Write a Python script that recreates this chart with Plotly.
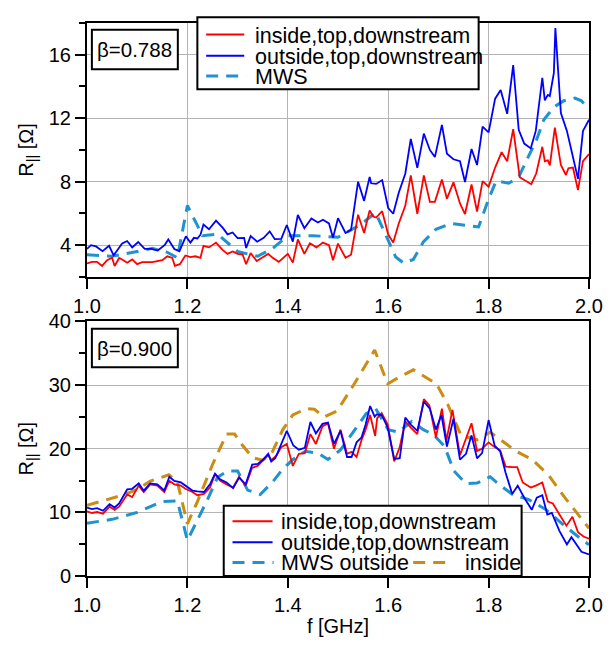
import plotly.graph_objects as go

# ---------------- data: top panel (beta = 0.788) ----------------
top_in_f = [1.00,1.01,1.02,1.03,1.04,1.05,1.055,1.064,1.07,1.08,1.09,1.10,1.11,1.13,1.15,1.16,1.17,1.175,1.185,1.196,
            1.206,1.216,1.226,1.232,1.243,1.257,1.27,1.28,1.29,1.30,1.31,1.317,1.326,1.338,1.351,1.361,1.37,1.382,1.40,1.41,
            1.42,1.433,1.444,1.457,1.47,1.482,1.49,1.50,1.515,1.526,1.54,1.552,1.563,1.57,1.576,1.588,1.60,1.61,1.621,1.634,
            1.645,1.658,1.671,1.683,1.693,1.707,1.717,1.73,1.743,1.753,1.766,1.777,1.788,1.80,1.813,1.826,1.837,1.849,1.862,1.872,
            1.885,1.895,1.907,1.912,1.918,1.922,1.932,1.944,1.954,1.959,1.968,1.978,1.988,2.0]
top_in_r = [2.85,2.95,2.95,2.69,3.05,3.21,2.69,3.19,3.1,2.89,3.1,2.8,2.93,2.93,3.05,3.3,3.2,2.69,2.8,3.35,
            3.25,3.3,3.2,3.96,3.86,4.16,3.7,3.45,3.6,3.45,3.41,2.8,3.5,3.0,3.25,3.45,3.2,2.95,3.45,2.9,
            4.36,3.45,4.12,3.86,4.16,4.0,3.05,4.1,3.2,3.4,5.92,4.77,6.18,5.8,5.74,6.14,4.67,4.16,5.37,6.48,
            8.4,5.98,8.4,6.73,6.73,8.14,6.93,7.96,6.63,5.96,7.82,6.12,8.04,7.68,8.89,9.86,9.29,11.31,8.28,8.08,
            7.84,8.53,10.2,9.29,9.35,9.03,11.41,9.05,8.42,8.85,8.89,7.47,9.29,9.74]

top_out_f = [1.00,1.008,1.018,1.031,1.044,1.053,1.06,1.07,1.08,1.09,1.102,1.115,1.128,1.141,1.155,1.162,1.174,1.184,1.197,1.206,
             1.213,1.22,1.226,1.232,1.243,1.257,1.271,1.28,1.29,1.30,1.313,1.317,1.326,1.339,1.352,1.364,1.374,1.387,1.398,1.41,
             1.42,1.433,1.447,1.46,1.47,1.482,1.49,1.50,1.515,1.526,1.54,1.552,1.563,1.566,1.576,1.588,1.60,1.61,1.621,1.634,
             1.645,1.658,1.671,1.683,1.693,1.707,1.717,1.73,1.743,1.753,1.766,1.777,1.788,1.80,1.813,1.824,1.837,1.849,1.86,1.871,
             1.884,1.894,1.907,1.912,1.918,1.922,1.93,1.933,1.944,1.956,1.967,1.978,1.988,2.0]
top_out_r = [3.76,4.0,3.92,3.62,3.96,3.36,3.66,4.1,4.26,3.86,4.2,3.76,3.76,3.66,4.02,4.36,3.76,3.62,4.56,4.16,
             4.46,4.42,4.66,5.3,5.0,5.55,5.07,4.68,4.8,4.44,4.46,3.82,4.57,4.22,4.46,4.87,4.38,4.4,5.27,4.22,
             5.9,5.07,5.68,5.43,5.6,5.37,4.46,5.7,4.77,4.97,8.0,6.79,8.3,7.9,7.86,8.1,6.34,5.98,7.3,8.5,
             10.69,8.87,11.03,10.0,9.55,11.58,9.76,9.41,9.29,7.98,10.06,9.05,11.47,11.11,13.23,13.78,12.28,15.35,11.27,10.4,
             10.1,11.2,14.55,13.13,13.47,13.4,14.85,17.68,12.32,11.2,9.7,8.18,11.2,11.9]

top_mws_f = [1.00,1.05,1.10,1.13,1.16,1.18,1.20,1.23,1.26,1.30,1.34,1.37,1.40,1.45,1.50,1.545,1.575,1.60,1.615,1.631,
             1.65,1.67,1.695,1.725,1.78,1.80,1.815,1.84,1.86,1.875,1.895,1.91,1.93,1.95,1.972,1.985,2.0]
top_mws_r = [3.4,3.3,3.6,3.8,3.55,3.2,6.5,4.6,4.7,3.6,3.3,3.8,4.6,4.6,4.5,5.3,6.05,4.3,3.25,2.87,
             3.1,4.2,5.0,5.37,5.15,6.9,8.05,7.9,8.3,9.3,10.6,11.9,12.7,13.1,13.27,13.1,12.55]

# ---------------- data: bottom panel (beta = 0.900) ----------------
bot_in_f = [1.00,1.01,1.02,1.032,1.045,1.055,1.064,1.08,1.09,1.103,1.113,1.126,1.14,1.154,1.164,1.174,1.187,1.196,1.21,1.22,
            1.233,1.245,1.255,1.265,1.278,1.291,1.303,1.316,1.329,1.34,1.351,1.361,1.367,1.378,1.387,1.398,1.41,1.422,1.434,1.445,
            1.456,1.469,1.48,1.492,1.505,1.518,1.527,1.537,1.547,1.555,1.564,1.574,1.578,1.587,1.599,1.612,1.623,1.634,1.645,1.658,
            1.671,1.682,1.695,1.707,1.716,1.728,1.743,1.755,1.766,1.777,1.787,1.80,1.812,1.823,1.834,1.847,1.857,1.868,1.884,1.894,
            1.907,1.918,1.928,1.942,1.955,1.967,1.978,1.989,2.0]
bot_in_r = [10.15,9.9,10.05,9.8,10.9,10.4,10.9,12.8,12.4,14.2,13.2,14.4,14.2,13.2,14.95,14.4,14.2,13.7,13.2,12.7,
            12.9,13.9,16.0,15.0,14.4,13.9,15.6,14.2,17.0,17.3,18.2,19.0,18.2,19.0,20.25,20.75,17.3,19.2,19.3,22.3,
            20.75,23.5,24.0,20.0,23.0,19.2,19.5,18.7,21.4,23.0,25.3,22.0,24.8,25.6,23.8,18.0,20.25,24.3,23.3,22.3,
            27.8,26.8,21.8,26.3,21.3,26.1,19.0,21.5,24.0,19.65,20.0,21.0,20.25,19.75,17.2,17.1,17.1,14.7,13.9,14.2,
            14.7,11.7,11.4,9.55,7.9,9.3,6.9,6.2,5.85]

bot_out_f = [1.00,1.01,1.02,1.032,1.045,1.055,1.064,1.08,1.09,1.103,1.113,1.126,1.14,1.154,1.164,1.174,1.187,1.196,1.21,1.22,
             1.233,1.245,1.255,1.265,1.278,1.291,1.303,1.316,1.329,1.34,1.351,1.361,1.367,1.375,1.387,1.398,1.411,1.422,1.434,1.445,
             1.456,1.469,1.48,1.492,1.505,1.518,1.527,1.537,1.547,1.555,1.564,1.573,1.577,1.587,1.599,1.612,1.623,1.634,1.645,1.658,
             1.671,1.683,1.695,1.706,1.717,1.73,1.743,1.755,1.766,1.777,1.787,1.80,1.812,1.823,1.834,1.847,1.858,1.871,1.886,1.896,
             1.907,1.917,1.926,1.941,1.956,1.965,1.985,2.0]
bot_out_r = [10.76,10.5,10.66,10.25,11.3,10.76,11.4,13.6,13.7,14.55,13.4,14.55,14.4,13.43,15.6,14.95,14.7,14.2,13.43,13.3,
             13.2,14.4,16.1,15.2,14.7,13.8,15.45,14.4,17.5,17.6,18.3,19.2,18.0,18.5,20.75,22.8,20.5,19.85,20.15,24.2,
             22.4,23.9,24.1,20.75,22.8,18.7,18.7,21.0,21.8,23.8,26.7,25.05,25.4,25.3,23.3,18.4,18.5,24.9,23.8,22.8,
             27.4,26.3,23.0,25.3,20.35,24.7,18.3,19.2,22.1,18.5,19.3,24.5,20.5,19.6,16.2,12.9,14.2,12.3,10.4,12.3,
             12.7,9.65,9.9,7.1,4.95,6.1,3.8,3.4]

bot_mws_out_f = [1.00,1.05,1.10,1.15,1.18,1.20,1.24,1.26,1.28,1.30,1.32,1.345,1.37,1.39,1.41,1.435,1.46,1.48,1.505,1.53,
                 1.556,1.575,1.60,1.62,1.647,1.67,1.69,1.712,1.731,1.755,1.777,1.803,1.822,1.848,1.88,1.913,1.945,1.978,2.0]
bot_mws_out_r = [8.3,8.9,10.0,11.7,11.8,5.6,12.0,15.5,16.5,16.5,13.5,12.8,14.8,16.8,18.3,19.6,19.3,18.3,19.8,22.5,
                 25.5,26.3,23.0,22.6,24.3,23.0,22.2,20.4,16.5,14.5,14.6,15.6,14.3,12.8,12.0,10.5,8.3,6.2,4.9]

bot_mws_in_f = [1.00,1.036,1.075,1.10,1.126,1.163,1.18,1.20,1.22,1.25,1.278,1.294,1.31,1.33,1.35,1.368,1.39,1.41,1.437,1.453,
                1.472,1.498,1.531,1.573,1.599,1.621,1.65,1.696,1.719,1.745,1.777,1.803,1.829,1.855,1.887,1.92,1.952,1.978,2.0]
bot_mws_in_r = [11.1,11.9,12.8,13.6,14.9,15.9,14.8,8.2,11.7,17.5,22.3,22.3,20.5,18.6,18.2,19.3,23.0,25.3,26.3,26.2,
                25.0,25.9,30.0,35.5,30.2,31.2,32.4,30.2,26.9,22.1,21.4,22.6,21.1,19.6,18.3,15.8,12.3,9.75,7.5]

x_ticks = [1.0, 1.2, 1.4, 1.6, 1.8, 2.0]

# ---------------- styling ----------------
FONT = "Liberation Sans, Arial, Helvetica, sans-serif"
RED = "#ff0000"
BLUE = "#0000ff"
CYAN = "#1f93d0"
GOLD = "#cc8c14"
DASH = "12px,8px"
GRID = "#b4b4b4"
LEG_SIZE = 21.5

W, H = 615, 646
ML, MR, MT, MB = 87, 14, 13, 58
PW, PH = W - ML - MR, H - MT - MB


def X(px):
    return (px - ML) / PW


def Y(py):
    return (H - MB - py) / PH


fig = go.Figure()


def add_line(x, y, color, width, dash, xa, ya):
    fig.add_trace(go.Scatter(x=x, y=y, mode="lines", xaxis=xa, yaxis=ya,
                             line=dict(color=color, width=width, dash=dash),
                             showlegend=False, hoverinfo="skip"))


add_line(top_mws_f, top_mws_r, CYAN, 3, DASH, "x", "y")
add_line(top_in_f, top_in_r, RED, 1.8, "solid", "x", "y")
add_line(top_out_f, top_out_r, BLUE, 1.8, "solid", "x", "y")

add_line(bot_mws_in_f, bot_mws_in_r, GOLD, 3, DASH, "x2", "y2")
add_line(bot_mws_out_f, bot_mws_out_r, CYAN, 3, DASH, "x2", "y2")
add_line(bot_in_f, bot_in_r, RED, 1.8, "solid", "x2", "y2")
add_line(bot_out_f, bot_out_r, BLUE, 1.8, "solid", "x2", "y2")

axis_common = dict(showline=True, linecolor="black", linewidth=2, mirror=True,
                   ticks="outside", ticklen=10, tickwidth=2, tickcolor="black",
                   showgrid=True, gridcolor=GRID, gridwidth=1.2, zeroline=False,
                   tickfont=dict(size=20, color="black", family=FONT))

xcommon = dict(axis_common, range=[1, 2], tickvals=x_ticks, ticktext=[f"{v:.1f}" for v in x_ticks])

top_dom = [Y(277), 1.0]
bot_dom = [0.0, Y(323.3)]

fig.update_layout(
    width=W, height=H, autosize=False,
    margin=dict(l=ML, r=MR, t=MT, b=MB, pad=0),
    paper_bgcolor="white", plot_bgcolor="white",
    font=dict(family=FONT, size=20, color="black"),
    showlegend=False,
    xaxis=dict(xcommon, domain=[0, 1], anchor="y"),
    yaxis=dict(axis_common, domain=top_dom, anchor="x", range=[2, 18], tick0=0, dtick=4,
               minor=dict(tick0=0, dtick=2, ticks="outside", ticklen=6, tickwidth=1.5,
                          tickcolor="black", showgrid=False),
               title=dict(text="R<sub>||</sub> [Ω]", standoff=10, font=dict(size=20))),
    xaxis2=dict(xcommon, domain=[0, 1], anchor="y2",
                title=dict(text="f [GHz]", standoff=4, font=dict(size=20))),
    yaxis2=dict(axis_common, domain=bot_dom, anchor="x2", range=[0, 40], tick0=0, dtick=10,
                minor=dict(tick0=0, dtick=5, ticks="outside", ticklen=6, tickwidth=1.5,
                           tickcolor="black", showgrid=False),
                title=dict(text="R<sub>||</sub> [Ω]", standoff=10, font=dict(size=20))),
)

shapes = []
annots = []


def box(x0, y0, x1, y1):
    shapes.append(dict(type="rect", xref="paper", yref="paper", layer="above",
                       x0=X(x0), x1=X(x1), y0=Y(y1), y1=Y(y0),
                       fillcolor="white", line=dict(color="black", width=2)))


def sample(x0, x1, y, color, width, dash):
    shapes.append(dict(type="line", xref="paper", yref="paper", layer="above",
                       x0=X(x0), x1=X(x1), y0=Y(y), y1=Y(y),
                       line=dict(color=color, width=width, dash=dash)))


def text(x, y, s, anchor="left", size=LEG_SIZE):
    annots.append(dict(xref="paper", yref="paper", x=X(x), y=Y(y), text=s, showarrow=False,
                       xanchor=anchor, yanchor="middle", font=dict(size=size, color="black", family=FONT)))


# top legend
box(200, 7, 488, 82)
sample(209, 248, 25, RED, 2, "solid")
sample(209, 248, 47, BLUE, 2, "solid")
sample(209, 250, 68, CYAN, 3, DASH)
text(257, 26, "inside,top,downstream")
text(257, 48, "outside,top,downstream")
text(257, 69, "MWS")

# top beta box
box(92, 20, 180, 61)
text(136, 41, "β=0.788", "center", 20.5)

# bottom legend
box(227, 515, 532, 588)
sample(236, 277, 531, RED, 2, "solid")
sample(236, 277, 553, BLUE, 2, "solid")
sample(236, 278, 574, CYAN, 3, DASH)
sample(421, 457, 574, GOLD, 3, DASH)
text(284, 532, "inside,top,downstream")
text(284, 554, "outside,top,downstream")
text(284, 575, "MWS outside")
text(472, 575, "inside")

# bottom beta box
box(92, 331, 180, 371)
text(136, 351, "β=0.900", "center", 20.5)

fig.update_layout(shapes=shapes, annotations=annots)

fig.write_html("out.html")
